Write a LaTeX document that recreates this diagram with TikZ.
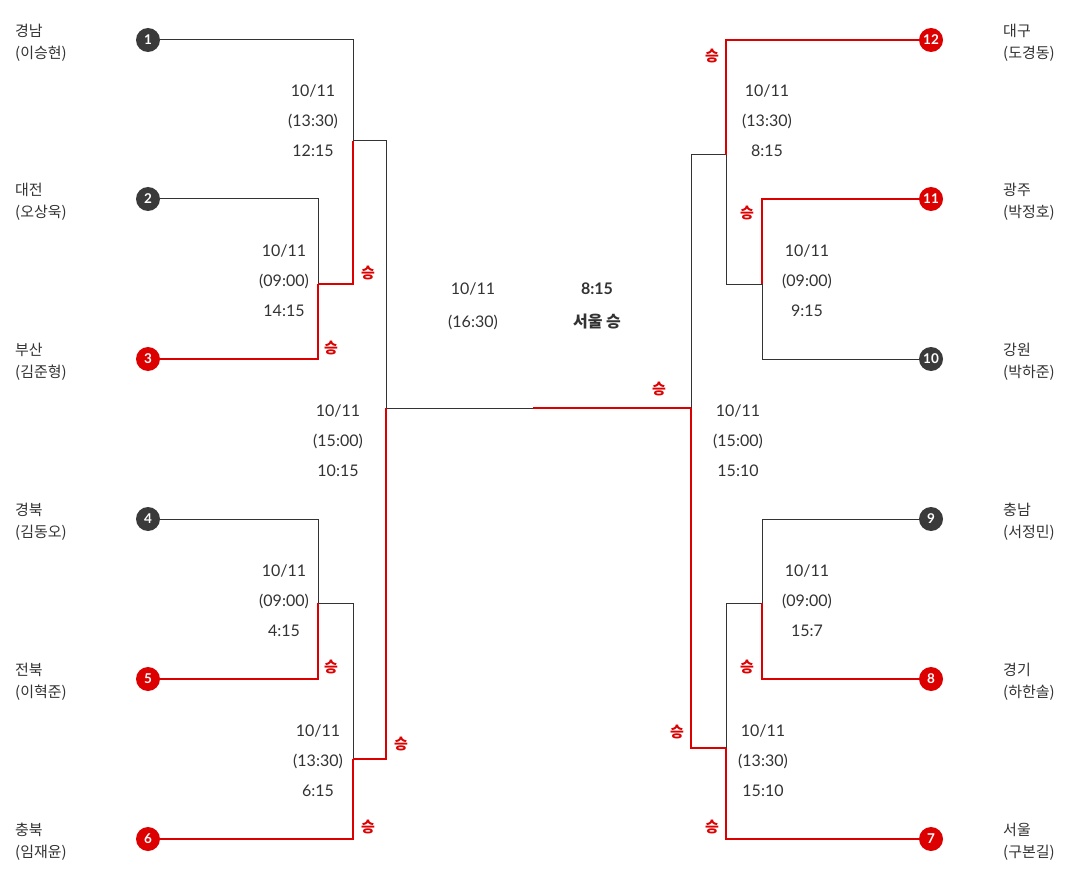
\documentclass[tikz,border=0pt]{standalone}
\usepackage{fontspec}
\setmainfont{Lato}
\newfontfamily\kr{Noto Sans CJK KR}
\definecolor{lg}{HTML}{333333}
\definecolor{rd}{HTML}{DD0000}
\definecolor{cg}{HTML}{3A3A3A}
\tikzset{
 gl/.style={draw=lg, line width=1pt},
 rl/.style={draw=rd, line width=2pt},
 seed/.style={circle, minimum size=24pt, inner sep=0pt, font=\bfseries\fontsize{13.5}{13.5}\selectfont, text=white},
 gseed/.style={seed, fill=cg},
 rseed/.style={seed, fill=rd},
 team/.style={anchor=west, align=left, inner sep=0pt, font=\kr\fontsize{15}{22}\selectfont, text=lg},
 info/.style={align=center, inner sep=0pt, font=\fontsize{16}{30}\selectfont, text=lg},
 fin/.style={align=center, inner sep=0pt, font=\fontsize{16}{33}\selectfont, text=lg},
 win/.style={inner sep=0pt, font=\kr\bfseries\fontsize{15}{15}\selectfont, text=rd},
}
\begin{document}
\begin{tikzpicture}[x=1pt,y=-1pt]
\useasboundingbox[fill=white] (0,0) rectangle (1080,888);
% seeds
\node[gseed] (c1) at (148,40) {1};
\node[gseed] (c2) at (148,199) {2};
\node[rseed] (c3) at (148,359) {3};
\node[gseed] (c4) at (148,519) {4};
\node[rseed] (c5) at (148,679) {5};
\node[rseed] (c6) at (148,839) {6};
\node[rseed] (c12) at (931,40) {12};
\node[rseed] (c11) at (931,199) {11};
\node[gseed] (c10) at (931,359) {10};
\node[gseed] (c9) at (931,519) {9};
\node[rseed] (c8) at (931,679) {8};
\node[rseed] (c7) at (931,839) {7};
% junctions
\coordinate (j23) at (318,284);
\coordinate (j13) at (353,141);
\coordinate (j45) at (318,603);
\coordinate (j56) at (353,759);
\coordinate (jL) at (386,408);
\coordinate (jF) at (533,408);
\coordinate (j1011) at (762,284);
\coordinate (j1211) at (726,155);
\coordinate (j98) at (762,603);
\coordinate (j87) at (726,748);
\coordinate (jR) at (691,408);
% gray lines
\draw[gl] (c1) -| (j13);
\draw[gl] (c2) -| (j23);
\draw[gl] (j13) -| (jL);
\draw[gl] (c4) -| (j45);
\draw[gl] (j45) -| (j56);
\draw[gl] (jL) -- (jF);
\draw[gl] (c10) -| (j1011);
\draw[gl] (j1011) -| (j1211);
\draw[gl] (j1211) -| (jR);
\draw[gl] (c9) -| (j98);
\draw[gl] (j98) -| (j87);
% red lines
\draw[rl] (c3) -| (j23);
\draw[rl] (j23) -| (j13);
\draw[rl] (c5) -| (j45);
\draw[rl] (c6) -| (j56);
\draw[rl] (j56) -| (jL);
\draw[rl] (jF) -- (jR);
\draw[rl] (c12) -| (j1211);
\draw[rl] (c11) -| (j1011);
\draw[rl] (c8) -| (j98);
\draw[rl] (c7) -| (j87);
\draw[rl] (j87) -| (jR);
% team names
\node[team] (n1) at (15,42.5) {경남\\(이승현)};
\node[team] (n2) at (15,201.5) {대전\\(오상욱)};
\node[team] (n3) at (15,361.5) {부산\\(김준형)};
\node[team] (n4) at (15,521.5) {경북\\(김동오)};
\node[team] (n5) at (15,681.5) {전북\\(이혁준)};
\node[team] (n6) at (15,841.5) {충북\\(임재윤)};
\node[team] (n12) at (1003,42.5) {대구\\(도경동)};
\node[team] (n11) at (1003,201.5) {광주\\(박정호)};
\node[team] (n10) at (1003,361.5) {강원\\(박하준)};
\node[team] (n9) at (1003,521.5) {충남\\(서정민)};
\node[team] (n8) at (1003,681.5) {경기\\(하한솔)};
\node[team] (n7) at (1003,841.5) {서울\\(구본길)};
% match info
\node[info] (m13) at (313,120.5) {10/11\\(13:30)\\12:15};
\node[info] (m23) at (284,280.5) {10/11\\(09:00)\\14:15};
\node[info] (mL) at (338,440.5) {10/11\\(15:00)\\10:15};
\node[info] (m45) at (284,600.5) {10/11\\(09:00)\\4:15};
\node[info] (m56) at (318,760.5) {10/11\\(13:30)\\6:15};
\node[info] (m1211) at (767,120.5) {10/11\\(13:30)\\8:15};
\node[info] (m1011) at (807,280.5) {10/11\\(09:00)\\9:15};
\node[info] (mR) at (738,440.5) {10/11\\(15:00)\\15:10};
\node[info] (m98) at (807,600.5) {10/11\\(09:00)\\15:7};
\node[info] (m87) at (763,760.5) {10/11\\(13:30)\\15:10};
\node[fin] (mF) at (473,306) {10/11\\(16:30)};
\node[fin, font=\bfseries\fontsize{16}{33}\selectfont] (rF) at (597,306) {8:15\\{\kr 서울 승}};
% win labels
\node[win] (w1) at (368,273) {승};
\node[win] (w2) at (331,348) {승};
\node[win] (w3) at (331,667) {승};
\node[win] (w4) at (401,744) {승};
\node[win] (w5) at (368,827) {승};
\node[win] (w6) at (712,56) {승};
\node[win] (w7) at (747,213) {승};
\node[win] (w8) at (659,389) {승};
\node[win] (w9) at (747,667) {승};
\node[win] (w10) at (677,732) {승};
\node[win] (w11) at (712,827) {승};
\end{tikzpicture}
\end{document}
